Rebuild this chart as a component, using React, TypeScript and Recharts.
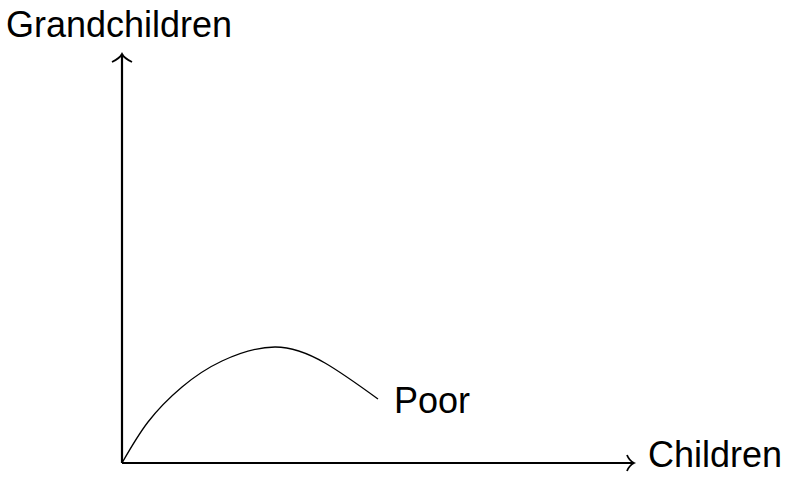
import { LineChart, Line, XAxis, YAxis, ReferenceDot, ReferenceLine } from 'recharts';

// values (x = children, y = grandchildren, arbitrary units)
const children = [0, 26, 60, 100, 153, 203, 256];
const grandchildren = [0, 41, 76, 102, 116, 100, 64];
const curveLabel = 'Poor';
const xLabel = 'Children';
const yLabel = 'Grandchildren';
const xMax = 512;
const yMax = 409;

const data = children.map((c, i) => ({ children: c, grandchildren: grandchildren[i] }));

const FONT = '"Liberation Sans", Arial, sans-serif';

function XArrow({ cx, cy }: any) {
    return (
        <g>
            <path
                d={`M${cx - 7},${cy - 8} C${cx - 5},${cy - 3} ${cx - 2},${cy - 1} ${cx},${cy} C${cx - 2},${cy + 1} ${cx - 5},${cy + 3} ${cx - 7},${cy + 8}`}
                fill="none"
                stroke="#000"
                strokeWidth={1.8}
            />
            <text x={cx + 14} y={cy + 4} fontSize={36} fontFamily={FONT} fill="#000">
                {xLabel}
            </text>
        </g>
    );
}

function YArrow({ cx, cy }: any) {
    return (
        <g>
            <path
                d={`M${cx - 10},${cy + 8} C${cx - 4},${cy + 5} ${cx - 1},${cy + 2} ${cx},${cy} C${cx + 1},${cy + 2} ${cx + 4},${cy + 5} ${cx + 10},${cy + 8}`}
                fill="none"
                stroke="#000"
                strokeWidth={1.8}
            />
            <text x={cx - 116} y={cy - 17} fontSize={36} fontFamily={FONT} fill="#000">
                {yLabel}
            </text>
        </g>
    );
}

function EndLabel({ cx, cy }: any) {
    return (
        <text x={cx + 16} y={cy + 14} fontSize={36} fontFamily={FONT} fill="#000">
            {curveLabel}
        </text>
    );
}

export default function App() {
    const last = data[data.length - 1];
    return (
        <div style={{ position: 'absolute', left: 0, top: 0, background: '#fff' }}>
            <LineChart
                width={787}
                height={480}
                data={data}
                margin={{ top: 54, right: 153, left: 122, bottom: 17 }}
            >
                <XAxis
                    type="number"
                    dataKey="children"
                    domain={[0, xMax]}
                    hide
                />
                <YAxis type="number" domain={[0, yMax]} hide />
                <ReferenceLine
                    segment={[{ x: 0, y: 0 }, { x: xMax, y: 0 }]}
                    stroke="#000"
                    strokeWidth={2.2}
                    ifOverflow="visible"
                />
                <ReferenceLine
                    segment={[{ x: 0, y: 0 }, { x: 0, y: yMax }]}
                    stroke="#000"
                    strokeWidth={2.2}
                    ifOverflow="visible"
                />
                <Line
                    type="natural"
                    dataKey="grandchildren"
                    stroke="#000"
                    strokeWidth={1.3}
                    dot={false}
                    isAnimationActive={false}
                />
                <ReferenceDot x={xMax} y={0} ifOverflow="visible" shape={(p: any) => <XArrow {...p} />} />
                <ReferenceDot x={0} y={yMax} ifOverflow="visible" shape={(p: any) => <YArrow {...p} />} />
                <ReferenceDot
                    x={last.children}
                    y={last.grandchildren}
                    ifOverflow="visible"
                    shape={(p: any) => <EndLabel {...p} />}
                />
            </LineChart>
        </div>
    );
}
